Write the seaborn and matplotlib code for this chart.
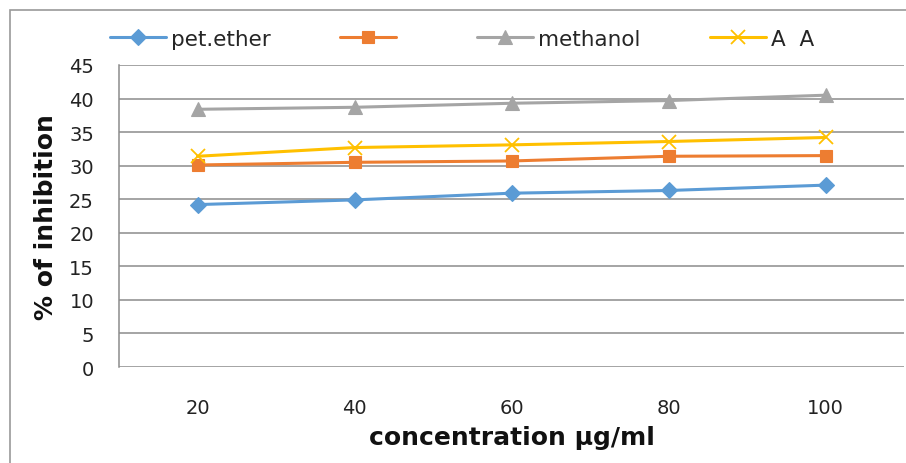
import pandas as pd
import matplotlib.pyplot as plt
import seaborn as sns
from matplotlib.patches import Rectangle

# values
conc = ["20", "40", "60", "80", "100"]
pet_ether = [24.2, 24.9, 25.9, 26.3, 27.1]
unnamed = [30.1, 30.5, 30.7, 31.4, 31.5]
methanol = [38.4, 38.7, 39.3, 39.7, 40.5]
aa = [31.4, 32.7, 33.1, 33.6, 34.2]

names = ["pet.ether", " ", "methanol", "A  A"]
series = [pet_ether, unnamed, methanol, aa]
colors = ["#5B9BD5", "#ED7D31", "#A5A5A5", "#FFC000"]
markers = ["D", "s", "^", "x"]
msizes = [8, 9, 10.5, 10]

sns.set_style("white")
plt.rcParams["font.family"] = ["DejaVu Sans"]

fig = plt.figure(figsize=(9.06, 4.64), dpi=100)
ax = fig.add_axes([119 / 906, 1 - 368 / 464, 785 / 906, 302 / 464])

for name, vals, c, m, ms in zip(names, series, colors, markers, msizes):
    sns.lineplot(x=conc, y=vals, ax=ax, color=c, marker=m, markersize=ms,
                 mec=c, mfc=c, mew=1.3 if m == "x" else 0.8, linewidth=2.2,
                 label=name, sort=False)

ax.set_xlim(-0.5, 4.5)
ax.set_ylim(0, 45)
ax.set_yticks(range(0, 46, 5))
ax.yaxis.grid(True, color="#8C8C8C", linewidth=1.1)
ax.set_axisbelow(True)
for s in ["top", "right", "bottom"]:
    ax.spines[s].set_visible(False)
ax.spines["left"].set_color("#8C8C8C")
ax.spines["left"].set_linewidth(1.1)
ax.tick_params(axis="y", length=6, width=1.1, color="#8C8C8C", pad=12,
               labelsize=14, labelcolor="#222222")
ax.tick_params(axis="x", length=0, pad=22, labelsize=14, labelcolor="#222222")

ax.set_xlabel("concentration \u00b5g/ml", fontsize=18, fontweight="bold",
              color="#111111", labelpad=6)
ax.set_ylabel("% of inhibition", fontsize=18, fontweight="bold",
              color="#111111", labelpad=8)

handles, labels = ax.get_legend_handles_labels()
ax.legend(handles, labels, ncol=4, loc="center", frameon=False,
          bbox_to_anchor=(462 / 906, 1 - 40 / 464), bbox_transform=fig.transFigure,
          fontsize=15.5, handlelength=2.6, handletextpad=0.25, columnspacing=3.2)

# chart border
fig.patches.append(Rectangle((10 / 906, -0.1), 1.0, 1 - 11 / 464 + 0.1,
                             transform=fig.transFigure, fill=False,
                             edgecolor="#9A9A9A", linewidth=1.2))

fig.savefig("out.png", dpi=100)
